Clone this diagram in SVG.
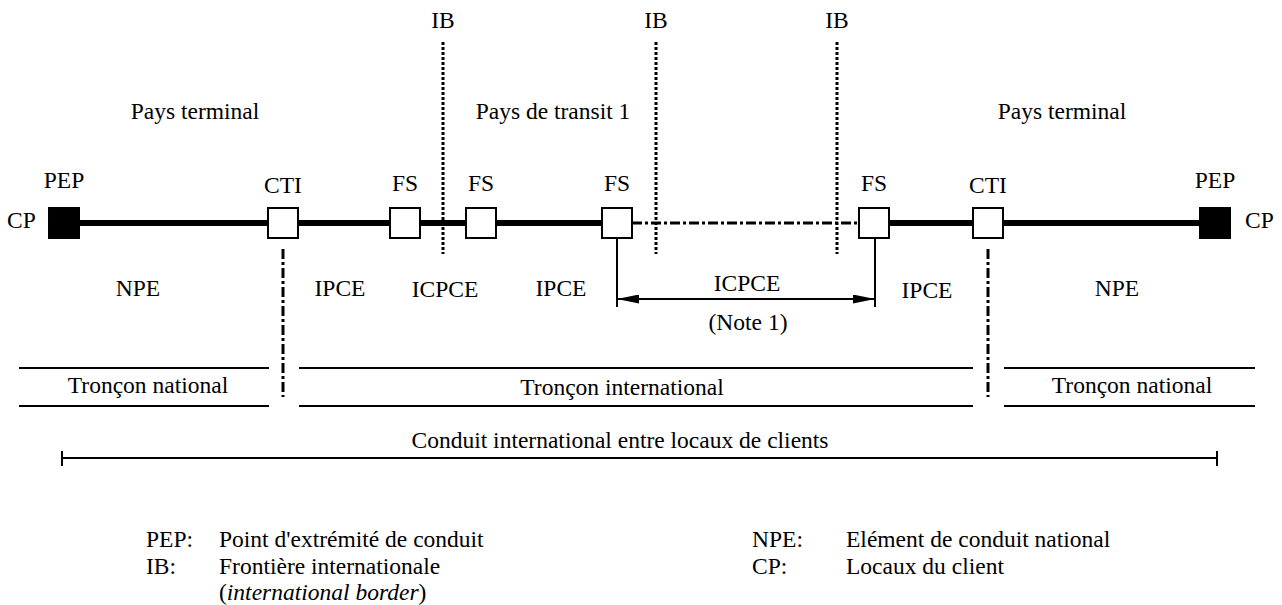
<svg xmlns="http://www.w3.org/2000/svg" width="1282" height="605" viewBox="0 0 1282 605">
<style>
text{font-family:"Liberation Serif","Times New Roman",serif;font-size:23.5px;fill:#000}
.m{text-anchor:middle}
.box{fill:#fff;stroke:#000;stroke-width:2}
.pep{fill:#000;stroke:#000;stroke-width:2}
.thick{stroke:#000;stroke-width:6;fill:none}
.thin{stroke:#000;stroke-width:2;fill:none}
.ib{stroke:#000;stroke-width:3;stroke-dasharray:3 2;fill:none}
.dd{stroke:#000;stroke-width:3;stroke-dasharray:10 3 3 3;fill:none}
</style>
<defs>
<marker id="ah" viewBox="0 0 22 9" refX="22" refY="4.5" markerWidth="22" markerHeight="9" markerUnits="userSpaceOnUse" orient="auto-start-reverse">
<path d="M0,0 L22,4.5 L0,9 z" fill="#000"/>
</marker>
</defs>

<g id="headers">
<text class="m" x="443" y="28">IB</text>
<text class="m" x="656" y="28">IB</text>
<text class="m" x="837" y="28">IB</text>
<text class="m" x="195" y="119">Pays terminal</text>
<text class="m" x="553" y="119">Pays de transit 1</text>
<text class="m" x="1062" y="119">Pays terminal</text>
</g>

<g id="connectors">
<line class="thick" x1="79" y1="223" x2="268" y2="223"/>
<line class="thick" x1="298" y1="223" x2="390" y2="223"/>
<line class="thick" x1="420" y1="223" x2="466" y2="223"/>
<line class="thick" x1="496" y1="223" x2="602" y2="223"/>
<line class="dd" x1="632" y1="223" x2="859" y2="223"/>
<line class="thick" x1="889" y1="223" x2="973" y2="223"/>
<line class="thick" x1="1003" y1="223" x2="1200" y2="223"/>
<line class="ib" x1="443" y1="42" x2="443" y2="254"/>
<line class="ib" x1="656" y1="42" x2="656" y2="254"/>
<line class="ib" x1="837" y1="42" x2="837" y2="254"/>
<line class="dd" x1="283" y1="249" x2="283" y2="397"/>
<line class="dd" x1="988" y1="249" x2="988" y2="397"/>
<line class="thin" x1="617" y1="238" x2="617" y2="307"/>
<line class="thin" x1="875" y1="238" x2="875" y2="307"/>
<line class="thin" x1="617" y1="299" x2="875" y2="299" marker-start="url(#ah)" marker-end="url(#ah)"/>
<line class="thin" x1="19" y1="368" x2="269" y2="368"/>
<line class="thin" x1="19" y1="406" x2="269" y2="406"/>
<line class="thin" x1="299" y1="368" x2="973" y2="368"/>
<line class="thin" x1="299" y1="406" x2="973" y2="406"/>
<line class="thin" x1="1004" y1="368" x2="1255" y2="368"/>
<line class="thin" x1="1004" y1="406" x2="1255" y2="406"/>
<line class="thin" x1="62" y1="458" x2="1217" y2="458"/>
<line class="thin" x1="62" y1="451" x2="62" y2="466"/>
<line class="thin" x1="1217" y1="451" x2="1217" y2="466"/>
</g>

<g id="pep-left">
<rect class="pep" x="49" y="208" width="30" height="30"/>
<text class="m" x="64" y="188">PEP</text>
<text x="7" y="228">CP</text>
</g>
<g id="cti-left">
<rect class="box" x="268" y="208" width="30" height="30"/>
<text class="m" x="283" y="193">CTI</text>
</g>
<g id="fs1">
<rect class="box" x="390" y="208" width="30" height="30"/>
<text class="m" x="405" y="191">FS</text>
</g>
<g id="fs2">
<rect class="box" x="466" y="208" width="30" height="30"/>
<text class="m" x="481" y="191">FS</text>
</g>
<g id="fs3">
<rect class="box" x="602" y="208" width="30" height="30"/>
<text class="m" x="617" y="191">FS</text>
</g>
<g id="fs4">
<rect class="box" x="859" y="208" width="30" height="30"/>
<text class="m" x="874" y="191">FS</text>
</g>
<g id="cti-right">
<rect class="box" x="973" y="208" width="30" height="30"/>
<text class="m" x="988" y="193">CTI</text>
</g>
<g id="pep-right">
<rect class="pep" x="1200" y="208" width="30" height="30"/>
<text class="m" x="1215" y="188">PEP</text>
<text x="1245" y="228">CP</text>
</g>

<g id="segment-labels">
<text class="m" x="138" y="296">NPE</text>
<text class="m" x="340" y="296">IPCE</text>
<text class="m" x="445" y="297">ICPCE</text>
<text class="m" x="561" y="296">IPCE</text>
<text class="m" x="747" y="291">ICPCE</text>
<text class="m" x="748" y="330">(Note 1)</text>
<text class="m" x="927" y="298">IPCE</text>
<text class="m" x="1117" y="296">NPE</text>
<text class="m" x="148" y="393">Tronçon national</text>
<text class="m" x="622" y="395">Tronçon international</text>
<text class="m" x="1132" y="393">Tronçon national</text>
<text class="m" x="620" y="448">Conduit international entre locaux de clients</text>
</g>

<g id="legend">
<text x="146" y="547">PEP:</text>
<text x="219" y="547">Point d'extrémité de conduit</text>
<text x="146" y="574">IB:</text>
<text x="219" y="574">Frontière internationale</text>
<text x="219" y="600">(<tspan font-style="italic">international border</tspan>)</text>
<text x="752" y="547">NPE:</text>
<text x="846" y="547">Elément de conduit national</text>
<text x="752" y="574">CP:</text>
<text x="846" y="574">Locaux du client</text>
</g>
</svg>
